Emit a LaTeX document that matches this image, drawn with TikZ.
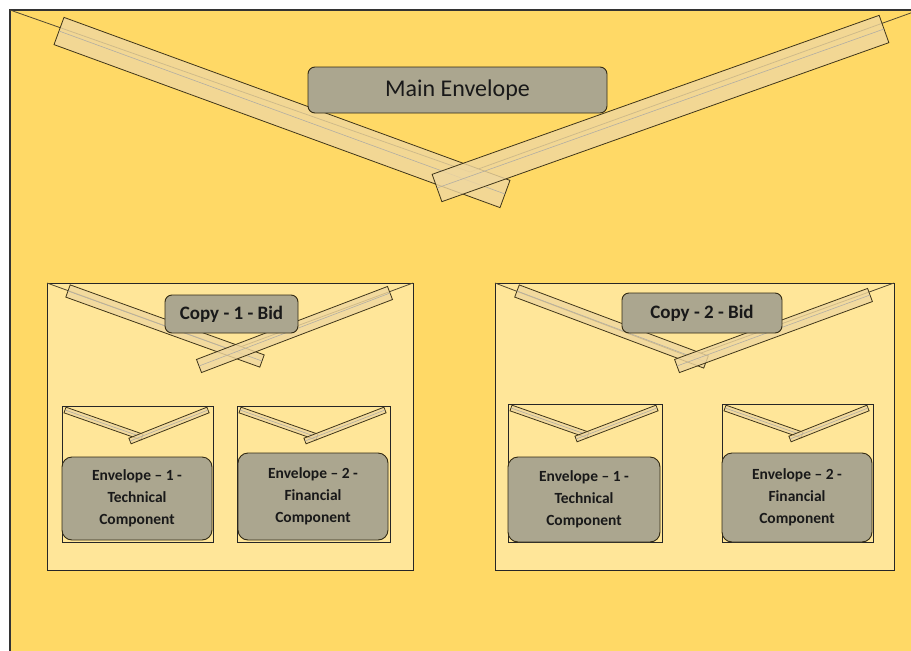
\documentclass[tikz,border=0pt]{standalone}
\usepackage{fontspec}
\setmainfont{Carlito}
\usetikzlibrary{calc}
\definecolor{envgold}{HTML}{FFD966}
\definecolor{copygold}{HTML}{FFE699}
\definecolor{flaptan}{HTML}{EFD7A0}
\definecolor{labelgrey}{HTML}{ABA68F}
\definecolor{edgebrown}{HTML}{3F3519}

% one flap strip: start, end, half width
\newcommand{\flapband}[3]{%
  \filldraw[bandshape] ($#1!#3!90:#2$) -- ($#1!#3!-90:#2$) -- ($#2!#3!90:#1$) -- ($#2!#3!-90:#1$) -- cycle;
  \draw[edgebrown!40,line width=0.6pt] #1 -- #2;}

% small envelope: x0, y0, x1, y1
\newcommand{\smallenv}[4]{%
  \draw[fill=copygold,draw=black!85,line width=1pt] (#1,#2) rectangle (#3,#4);
  \flapband{(#1+3,#2+4)}{(#1+80,#2+31)}{3pt}
  \flapband{(#3-5,#2+4)}{(#1+68,#2+35)}{3pt}}

\begin{document}
\begin{tikzpicture}[x=1pt,y=-1pt,
    bandshape/.style={fill=flaptan,fill opacity=0.8,draw=edgebrown,line width=0.8pt},
    flapline/.style={draw=edgebrown!90,line width=0.8pt},
    tagbox/.style={draw=edgebrown!80!black,fill=labelgrey,rounded corners=7pt,line width=0.9pt,text=black!90,inner sep=2pt}]
    \useasboundingbox (0,0) rectangle (911,651);
    \clip (0,0) rectangle (911,651);
    \fill[white] (0,0) rectangle (911,651);
    \draw[fill=envgold,draw=black!80,line width=1.1pt] (10,10) rectangle (925,670);

    % main envelope
    \coordinate (mainV) at (470,172);
    \draw[flapline] (10,10) -- (mainV) -- (919,10);
    \flapband{(59,31)}{(505,194)}{14.5pt}
    \flapband{(884,29)}{(437,188)}{14.5pt}
    \node[tagbox,minimum width=299pt,minimum height=46pt,font=\fontsize{24}{28}\selectfont] (mainenv) at (457.5,90) {Main Envelope};

    % copy 1
    \draw[fill=copygold,draw=black!85,line width=1pt] (47,283) rectangle (413,570);
    \coordinate (copyAV) at (232,350);
    \draw[flapline] (47,283) -- (copyAV) -- (413,283);
    \flapband{(68,291)}{(262,361)}{6.5pt}
    \flapband{(390,293)}{(199,366)}{7pt}
    \node[tagbox,minimum width=133pt,minimum height=38pt,font=\bfseries\fontsize{19}{22}\selectfont] (copyA) at (231.5,314) {Copy - 1 - Bid};
    \smallenv{62}{406}{213}{542}
    \smallenv{237}{406}{390}{542}
    \node[tagbox,rounded corners=10pt,minimum width=150pt,minimum height=83pt,align=center,font=\bfseries\fontsize{15.5}{22}\selectfont] (envAtech) at (137,498.5) {Envelope -- 1 -\\Technical\\Component};
    \node[tagbox,rounded corners=10pt,minimum width=150pt,minimum height=87pt,align=center,font=\bfseries\fontsize{15.5}{22}\selectfont] (envAfin) at (313,496.5) {Envelope -- 2 -\\Financial\\Component};

    % copy 2
    \draw[fill=copygold,draw=black!85,line width=1pt] (495,283) rectangle (894,570);
    \coordinate (copyBV) at (690,357);
    \draw[flapline] (495,283) -- (copyBV) -- (894,283);
    \flapband{(517,291)}{(706,362)}{6.5pt}
    \flapband{(870,295)}{(677,366)}{7pt}
    \node[tagbox,minimum width=160pt,minimum height=40pt,font=\bfseries\fontsize{19}{22}\selectfont] (copyB) at (702,313) {Copy - 2 - Bid};
    \smallenv{508}{404}{662}{542}
    \smallenv{722}{404}{873}{542}
    \node[tagbox,rounded corners=10pt,minimum width=152pt,minimum height=85pt,align=center,font=\bfseries\fontsize{15.5}{22}\selectfont] (envBtech) at (584,499.5) {Envelope -- 1 -\\Technical\\Component};
    \node[tagbox,rounded corners=10pt,minimum width=150pt,minimum height=89pt,align=center,font=\bfseries\fontsize{15.5}{22}\selectfont] (envBfin) at (797,497.5) {Envelope -- 2 -\\Financial\\Component};
\end{tikzpicture}
\end{document}
